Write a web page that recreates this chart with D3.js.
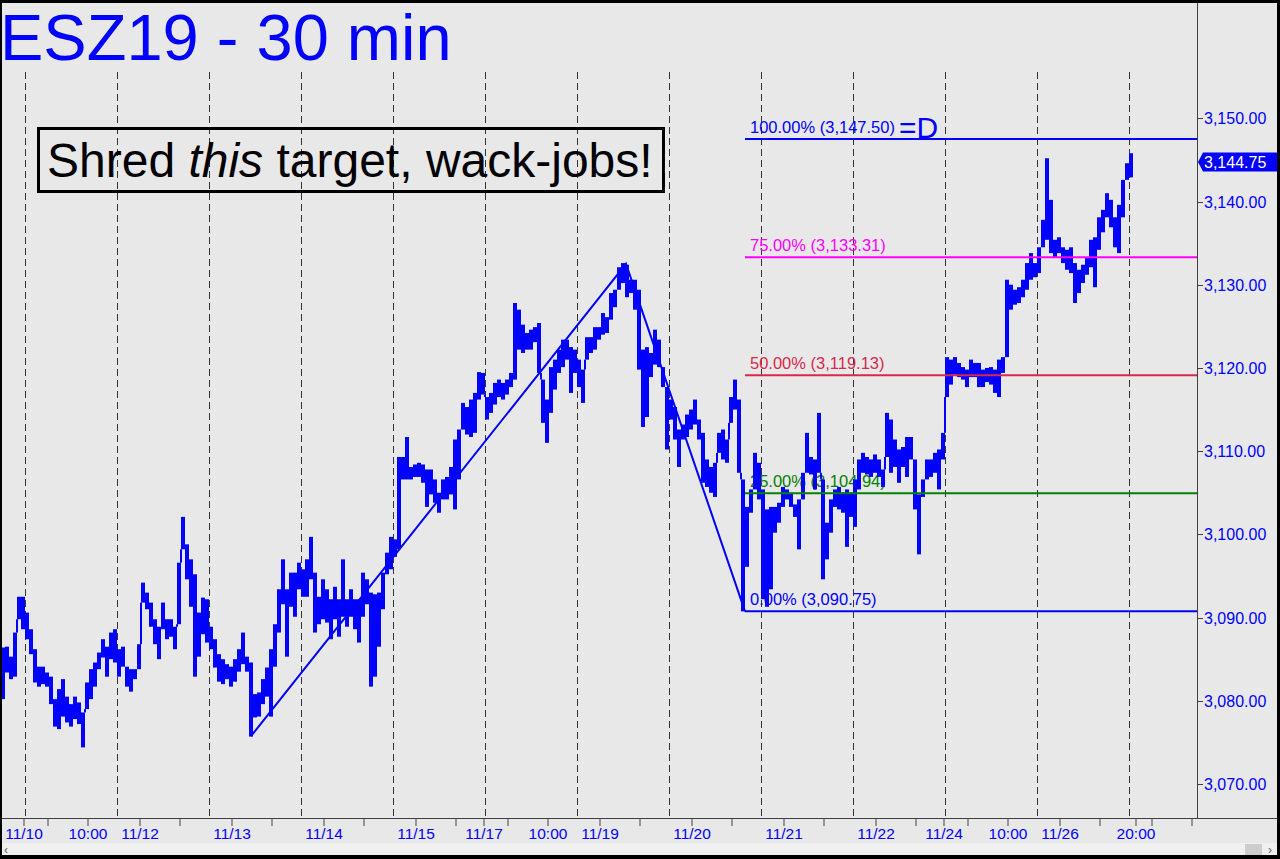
<!DOCTYPE html>
<html><head><meta charset="utf-8">
<script src="https://cdn.jsdelivr.net/npm/d3@7/dist/d3.min.js"></script>
<style>html,body{margin:0;padding:0;background:#000;overflow:hidden}svg{display:block}</style>
</head><body>
<script>
// ---- DATA (hourly high/low, 30-min chart, ESZ19) ----
const highs = [3086.4,3086.5,3085.3,3088.2,3092.5,3092.5,3090.6,3088.6,3086.2,3084.1,
3084.1,3083.4,3082.9,3080.2,3081.4,3082.6,3080.5,3079.6,3080.5,3079.8,
3078.6,3082.2,3083.8,3084.6,3085.8,3087.4,3086.5,3088.2,3088.6,3086.2,
3086.5,3084.1,3083.8,3083.8,3086.8,3094.2,3093.0,3091.8,3089.8,3088.9,
3091.8,3089.8,3089.8,3088.9,3096.6,3102.1,3098.8,3097.0,3095.2,3090.6,
3092.4,3092.2,3088.9,3087.4,3085.6,3085.0,3084.4,3084.1,3085.0,3086.2,
3088.2,3085.3,3084.6,3080.8,3081.0,3082.6,3084.0,3086.2,3089.2,3093.4,
3097.0,3093.4,3095.4,3095.4,3096.6,3095.8,3097.0,3099.7,3095.4,3092.5,
3094.6,3093.4,3092.2,3093.7,3092.2,3097.0,3092.2,3093.4,3092.2,3092.2,
3095.4,3094.6,3093.0,3092.8,3093.0,3095.4,3097.8,3099.7,3099.4,3109.3,
3109.3,3111.7,3108.1,3108.4,3108.6,3108.4,3107.8,3107.8,3106.6,3105.0,
3106.6,3106.9,3108.1,3111.4,3112.6,3115.8,3115.3,3116.2,3117.0,3119.5,
3119.4,3116.5,3117.0,3118.2,3118.6,3118.2,3118.6,3119.4,3127.8,3127.0,
3125.2,3124.2,3124.6,3124.9,3125.4,3118.6,3116.2,3120.1,3121.0,3122.2,
3123.4,3123.4,3122.5,3122.2,3121.0,3119.8,3123.7,3123.7,3124.9,3124.9,
3126.6,3126.1,3129.0,3129.4,3132.1,3132.6,3132.4,3130.6,3130.6,3129.4,
3122.2,3122.5,3121.8,3124.6,3123.4,3120.1,3117.7,3116.2,3115.3,3112.6,
3113.2,3114.4,3115.0,3116.2,3113.8,3112.2,3109.0,3108.1,3108.6,3112.2,
3112.6,3111.4,3116.5,3118.6,3116.2,3106.6,3103.3,3105.4,3109.8,3108.6,
3105.4,3103.0,3103.3,3103.3,3103.8,3105.7,3105.4,3105.0,3103.6,3104.2,
3107.4,3112.2,3109.3,3109.0,3114.6,3106.6,3101.4,3104.2,3105.4,3105.7,
3105.0,3105.4,3105.0,3106.6,3109.0,3109.8,3109.3,3109.0,3109.6,3109.0,
3107.8,3114.6,3113.8,3111.4,3110.2,3110.5,3111.7,3111.7,3109.0,3104.8,
3106.6,3109.0,3109.0,3109.8,3110.2,3112.2,3121.3,3121.0,3121.3,3120.6,
3120.1,3119.8,3121.0,3120.6,3120.6,3119.8,3120.0,3120.1,3119.8,3121.0,
3121.3,3130.6,3130.0,3129.4,3129.7,3130.6,3132.6,3133.8,3132.6,3134.5,
3137.8,3145.2,3140.2,3135.4,3135.7,3134.5,3134.2,3134.5,3132.6,3131.8,
3132.4,3133.2,3135.4,3135.7,3138.1,3139.0,3141.0,3140.2,3138.1,3139.6,
3142.6,3144.6,3145.8];
const lows = [3080.2,3083.4,3082.6,3082.9,3089.8,3088.6,3087.4,3085.6,3082.2,3081.7,
3082.0,3081.7,3079.6,3076.9,3076.6,3078.1,3077.4,3076.9,3077.8,3077.2,
3074.4,3079.0,3080.2,3081.7,3083.8,3085.2,3082.9,3085.0,3084.6,3082.9,
3084.1,3081.7,3081.1,3082.6,3083.8,3091.8,3091.0,3088.9,3086.8,3085.0,
3088.6,3087.4,3087.7,3086.2,3089.2,3098.2,3094.6,3091.3,3082.9,3085.3,
3088.0,3087.0,3086.2,3084.0,3082.3,3082.0,3082.6,3081.7,3082.3,3083.5,
3084.4,3083.5,3075.7,3078.0,3078.1,3079.6,3080.5,3078.1,3084.1,3088.2,
3091.6,3085.3,3091.3,3090.1,3093.4,3092.5,3092.5,3094.6,3088.2,3089.2,
3089.8,3089.4,3087.4,3089.8,3087.7,3090.1,3088.9,3090.1,3088.6,3087.0,
3090.1,3091.6,3081.7,3082.9,3086.5,3091.0,3095.2,3095.8,3097.3,3098.2,
3106.6,3106.6,3106.6,3106.9,3106.9,3106.2,3103.3,3104.8,3103.8,3102.6,
3104.2,3104.2,3104.8,3103.0,3106.6,3112.6,3112.0,3111.7,3112.2,3116.2,
3116.8,3113.8,3114.6,3115.6,3116.5,3116.2,3116.8,3117.7,3118.6,3122.2,
3121.8,3122.2,3122.2,3123.1,3119.4,3113.4,3111.0,3114.6,3117.4,3119.4,
3120.1,3121.0,3117.0,3119.4,3117.7,3115.8,3121.0,3121.8,3122.2,3123.4,
3124.0,3124.2,3125.8,3127.3,3129.4,3130.2,3128.5,3129.0,3127.0,3119.8,
3112.9,3114.1,3118.9,3120.4,3120.1,3117.7,3110.2,3113.8,3111.4,3108.1,
3111.4,3111.7,3112.6,3113.2,3111.4,3106.2,3105.7,3105.0,3104.5,3109.8,
3109.0,3108.6,3113.4,3115.0,3107.4,3090.75,3096.1,3102.6,3105.4,3104.2,
3092.2,3091.3,3093.4,3100.2,3101.4,3103.3,3104.2,3103.3,3102.1,3098.2,
3104.2,3107.4,3107.2,3105.4,3107.4,3094.6,3097.0,3100.2,3103.3,3103.0,
3102.6,3098.5,3102.1,3100.9,3105.4,3107.4,3107.2,3106.9,3107.4,3106.9,
3105.7,3109.3,3107.4,3108.1,3106.2,3108.1,3106.9,3109.0,3103.0,3097.6,
3104.5,3106.6,3106.9,3107.4,3105.4,3109.0,3116.5,3118.0,3119.2,3118.9,
3118.6,3117.7,3118.9,3118.9,3117.7,3117.7,3118.3,3118.0,3117.0,3116.5,
3119.4,3121.3,3127.0,3127.6,3127.8,3128.5,3129.4,3130.6,3130.9,3131.4,
3134.5,3135.4,3133.8,3133.3,3133.8,3132.6,3131.8,3131.4,3127.8,3129.0,
3130.2,3131.2,3132.1,3129.7,3134.2,3136.3,3138.1,3136.9,3134.5,3133.8,
3138.1,3142.6,3142.9];
const lastPrice = 3144.75;
const sessionStarts = [6,29,52,75,98,121,144,167,190,213,236,259,282]; // 18:00 session opens (hour index)
const tickLabels = ["11/10","10:00","11/12","11/13","11/14","11/15","11/17","10:00","11/19","11/20","11/21","11/22","11/24","10:00","11/26","20:00"];
const tickLabelHours = [6,22,35,58,81,104,121,137,150,173,196,219,236,252,265,284];
const yTicks = [3070,3080,3090,3100,3110,3120,3130,3140,3150];
const abcHours = [62.5,156.25,186];
const abcPrices = [3075.75,3132.5,3090.75];
const fibLevels = [1.0,0.75,0.5,0.25,0.0];
const fibNames = ["100.00%","75.00%","50.00%","25.00%","0.00%"];
const fibColors = ["#0000ff","#ff00ff","#d6294c","#008000","#0000ff"];

// ---- LAYOUT ----
const W = 1280, H = 859;
const plotL = 2, plotR = 1197, plotT = 3, plotB = 818;
const svg = d3.select("body").append("svg").attr("width", W).attr("height", H)
  .style("font-family", "'Liberation Sans', Arial, sans-serif");
svg.append("rect").attr("width", W).attr("height", H).attr("fill", "#000");
svg.append("rect").attr("x", 2).attr("y", 3).attr("width", 1275).attr("height", 852).attr("fill", "#e8e8e8");

const x = d3.scaleLinear().domain([0, 283]).range([1, 1133]);
const y = d3.scaleLinear().domain([3070, 3150]).range([784, 118.3]);
const fmt = d3.format(",.2f");

svg.append("defs").append("clipPath").attr("id", "clip")
  .append("rect").attr("x", plotL).attr("y", plotT).attr("width", plotR - plotL).attr("height", plotB - plotT);
const plot = svg.append("g").attr("clip-path", "url(#clip)");

// session separators
plot.selectAll("line.sep").data(sessionStarts).join("line")
  .attr("x1", d => x(d) + 0.5).attr("x2", d => x(d) + 0.5)
  .attr("y1", 72).attr("y2", plotB)
  .attr("stroke", "#333").attr("stroke-width", 1).attr("stroke-dasharray", "7,4");

// fib labels (under the bars)
const A = abcPrices[0], B = abcPrices[1], C = abcPrices[2];
const fibVals = fibLevels.map(f => C + f * (B - A));
plot.selectAll("text.fib").data(fibVals).join("text")
  .attr("x", 750).attr("y", d => y(d) - 6)
  .attr("fill", (d, i) => fibColors[i]).attr("font-size", 16.5)
  .text((d, i) => `${fibNames[i]} (${fmt(d)})`);

// price bars
const bars = highs.map((h, i) => ({i, h, l: lows[i]}));
plot.selectAll("rect.bar").data(bars).join("rect")
  .attr("x", d => x(d.i)).attr("width", d => x(d.i + 1) - x(d.i))
  .attr("y", d => y(d.h)).attr("height", d => Math.max(1, y(d.l) - y(d.h)))
  .attr("fill", "#0000ff");
// connectors across gaps between consecutive bars
const gaps = [];
bars.forEach((d, k) => {
  if (k === 0) return;
  const p = bars[k - 1];
  if (p.l > d.h) gaps.push({i: d.i, top: p.l, bot: d.h});
  else if (p.h < d.l) gaps.push({i: d.i, top: d.l, bot: p.h});
});
plot.selectAll("rect.conn").data(gaps).join("rect")
  .attr("x", d => x(d.i) - 1).attr("width", 2)
  .attr("y", d => y(d.top)).attr("height", d => y(d.bot) - y(d.top))
  .attr("fill", "#0000ff");

// fib lines
plot.selectAll("line.fib").data(fibVals).join("line")
  .attr("x1", x(abcHours[2])).attr("x2", plotR)
  .attr("y1", d => y(d)).attr("y2", d => y(d))
  .attr("stroke", (d, i) => fibColors[i]).attr("stroke-width", 2);

// ABC pattern lines
plot.append("path")
  .attr("d", d3.line().x(d => x(d[0])).y(d => y(d[1]))(abcHours.map((h, i) => [h, abcPrices[i]])))
  .attr("fill", "none").attr("stroke", "#0000ff").attr("stroke-width", 2);

// =D annotation
svg.append("text").attr("x", 899).attr("y", y(fibVals[0]) - 1)
  .attr("fill", "#0000ff").attr("font-size", 30).text("=D");

// axes lines
svg.append("line").attr("x1", plotR + 0.5).attr("x2", plotR + 0.5).attr("y1", plotT).attr("y2", plotB)
  .attr("stroke", "#404040");
svg.append("line").attr("x1", plotL).attr("x2", 1277).attr("y1", plotB + 0.5).attr("y2", plotB + 0.5)
  .attr("stroke", "#404040");

// y axis
const yAxis = svg.append("g");
yAxis.selectAll("line").data(yTicks).join("line")
  .attr("x1", plotR).attr("x2", plotR + 6)
  .attr("y1", d => Math.round(y(d)) + 0.5).attr("y2", d => Math.round(y(d)) + 0.5)
  .attr("stroke", "#404040");
yAxis.selectAll("text").data(yTicks).join("text")
  .attr("x", 1204).attr("y", d => y(d) + 6)
  .attr("fill", "#0000ff").attr("font-size", 16).text(d => fmt(d));

// last price tag
const ly = y(lastPrice);
svg.append("path")
  .attr("d", `M${plotR + 1},${ly} L${plotR + 6},${ly - 9.5} L1277,${ly - 9.5} L1277,${ly + 9.5} L${plotR + 6},${ly + 9.5} Z`)
  .attr("fill", "#0000ff");
svg.append("text").attr("x", 1204).attr("y", ly + 6).attr("fill", "#fff").attr("font-size", 16).text(fmt(lastPrice));

// x axis ticks
const minorTicks = [];
sessionStarts.forEach(s => { [s + 6, s + 16].forEach(t => { if (x(t) < plotR) minorTicks.push(t); }); });
const allTicks = minorTicks.concat(tickLabelHours.filter(h => sessionStarts.includes(h)), [284]);
svg.selectAll("line.xt").data(allTicks).join("line")
  .attr("x1", d => x(d) - 1).attr("x2", d => x(d) - 1)
  .attr("y1", plotB).attr("y2", plotB + 8).attr("stroke", "#404040");
svg.selectAll("text.xl").data(tickLabels).join("text")
  .attr("x", (d, i) => x(tickLabelHours[i]) - 1).attr("y", 839)
  .attr("text-anchor", "middle").attr("fill", "#0000ff").attr("font-size", 15.5).text(d => d);

// scrollbar strip
svg.append("rect").attr("x", 2).attr("y", 843).attr("width", 1275).attr("height", 12).attr("fill", "#f0f0f0");
svg.append("rect").attr("x", 1245).attr("y", 844).attr("width", 17).attr("height", 11).attr("fill", "#cdcdcd");
svg.append("text").attr("x", 4).attr("y", 854).attr("font-size", 12).attr("fill", "#606060").text("‹");
svg.append("text").attr("x", 1268).attr("y", 854).attr("font-size", 12).attr("fill", "#606060").text("›");

// title
svg.append("text").attr("x", 0).attr("y", 60).attr("fill", "#0000ff").attr("font-size", 65).text("ESZ19 - 30 min");

// callout box
svg.append("rect").attr("x", 38.5).attr("y", 128.5).attr("width", 625).attr("height", 63)
  .attr("fill", "none").attr("stroke", "#000").attr("stroke-width", 3);
const t = svg.append("text").attr("x", 47).attr("y", 177).attr("fill", "#000").attr("font-size", 48);
t.append("tspan").text("Shred ");
t.append("tspan").attr("font-style", "italic").text("this");
t.append("tspan").text(" target, wack-jobs!");
</script>
</body></html>
